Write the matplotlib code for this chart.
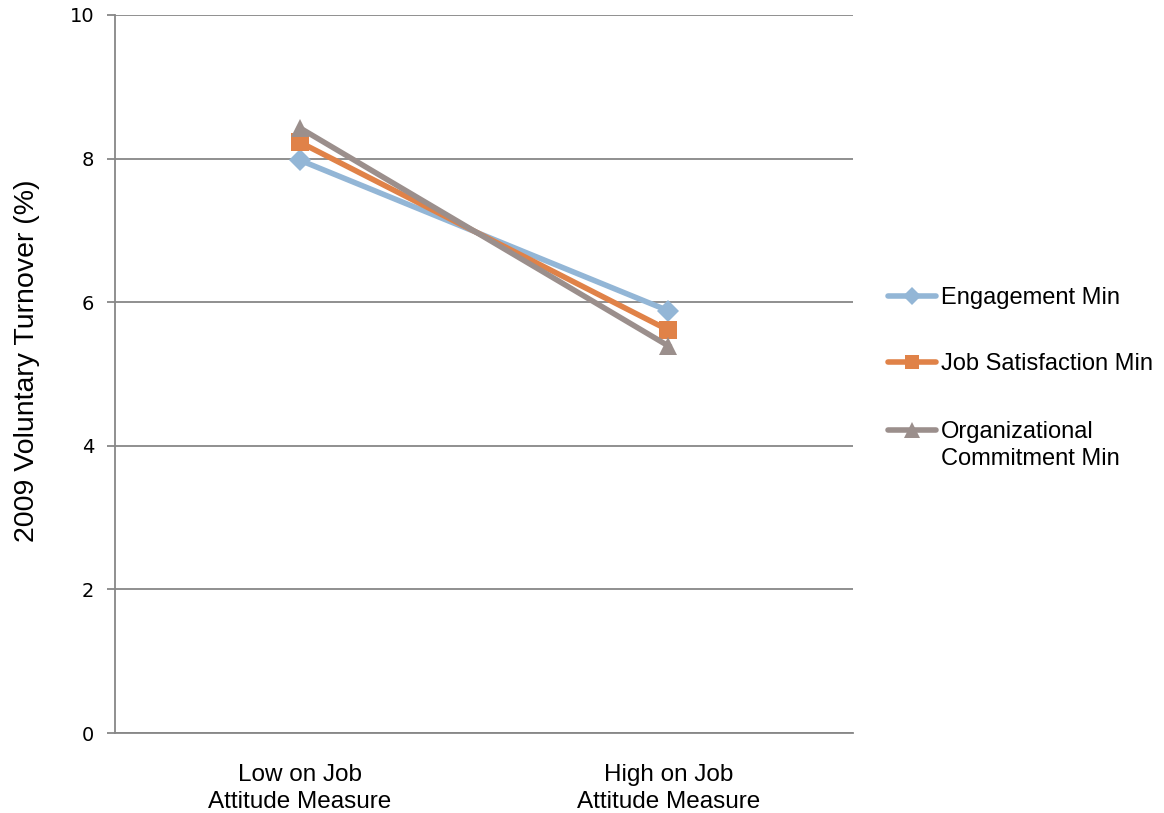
import matplotlib.pyplot as plt
from matplotlib.lines import Line2D

categories = ['Low on Job\nAttitude Measure', 'High on Job\nAttitude Measure']
engagement = [7.98, 5.88]
job_satisfaction = [8.23, 5.61]
org_commitment = [8.43, 5.39]

series = [
    ('Engagement Min', engagement, '#93B6D6', 'D', 11),
    ('Job Satisfaction Min', job_satisfaction, '#E08248', 's', 12.5),
    ('Organizational\nCommitment Min', org_commitment, '#9B8F8C', '^', 13),
]

W, H = 1164, 813
fig = plt.figure(figsize=(W / 100, H / 100), dpi=100)
ax = fig.add_axes([115 / W, 1 - 733 / H, 738 / W, 718 / H])

x = list(range(1, len(categories) + 1))
for label, vals, color, marker, ms in series:
    ax.plot(x, vals, color=color, lw=4, marker=marker, markersize=ms,
            markeredgewidth=0, label=label, zorder=3)

ax.set_xlim(0.5, len(categories) + 0.5)
ax.set_ylim(0, 10)
ax.set_yticks(range(0, 11, 2))
ax.set_xticks(x)
ax.set_xticklabels(categories, fontsize=17.5, family='Liberation Sans', linespacing=1.3)
ax.tick_params(axis='x', length=0, pad=22)
ax.tick_params(axis='y', length=6, color='#878787', width=1.3, labelsize=14, pad=9)
for lbl in ax.get_yticklabels():
    lbl.set_family('DejaVu Sans')

ax.grid(axis='y', color='#878787', lw=1.3, zorder=0)
for side in ('top', 'right'):
    ax.spines[side].set_visible(False)
for side in ('left', 'bottom'):
    ax.spines[side].set_color('#878787')
    ax.spines[side].set_linewidth(1.3)

ax.set_ylabel('2009 Voluntary Turnover (%)', fontsize=20.5, family='Liberation Sans')
ax.yaxis.set_label_coords((40 - 115) / 738, (733 - 361) / 718)

# legend drawn by hand so the two-line label keeps its handle on the first line
legend_rows = [296, 362, 430]
for (label, vals, color, marker, ms), row in zip(series, legend_rows):
    yf = 1 - row / H
    fig.add_artist(Line2D([888 / W, 936 / W], [yf, yf], transform=fig.transFigure,
                          color=color, lw=4, solid_capstyle='round'))
    fig.add_artist(Line2D([912 / W], [yf], transform=fig.transFigure, color=color,
                          marker=marker, markersize=ms * 0.85, markeredgewidth=0))
    fig.text(941 / W, yf + 9 / H, label, fontsize=17, family='Liberation Sans',
             va='top', ha='left', linespacing=1.3)

fig.savefig('out.png', dpi=100)
